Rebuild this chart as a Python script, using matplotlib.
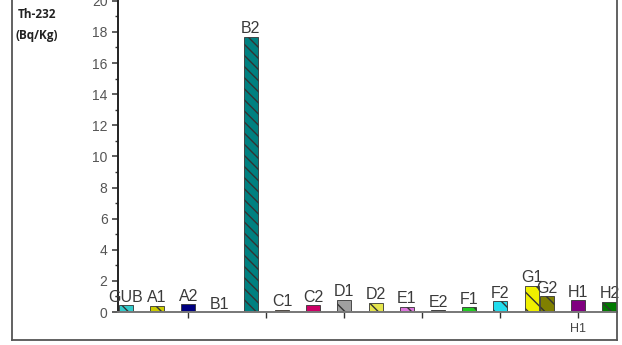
import matplotlib
matplotlib.use("Agg")
import matplotlib.pyplot as plt
from matplotlib.lines import Line2D
from matplotlib.ticker import MultipleLocator

# Th-232 activity per sample
samples = ["GUB", "A1", "A2", "B1", "B2", "C1", "C2", "D1", "D2",
           "E1", "E2", "F1", "F2", "G1", "G2", "H1", "H2"]
positions = [0, 1, 2, 3, 4, 5, 6, 7, 8, 9, 10, 11, 12, 13, 13.5, 14.5, 15.5]
th232 = [0.45, 0.4, 0.5, 0.0, 17.7, 0.15, 0.45, 0.8, 0.6,
         0.35, 0.1, 0.3, 0.7, 1.7, 1.0, 0.75, 0.65]
colors = ["#33CCCC", "#CCCC00", "#000080", "#FFFFFF", "#008080", "#CC8844",
          "#CC0066", "#A0A0A0", "#E6E64D", "#DD77DD", "#222222", "#22CC22",
          "#22DDEE", "#F0F000", "#808000", "#800080", "#007A00"]
hatches = ["\\\\", "\\\\", "", "", "\\\\\\", "", "", "\\", "\\",
           "\\\\", "", "\\\\", "\\\\", "\\\\", "\\\\", "", "\\\\"]
xtick_pos = [2, 4.5, 7, 9.5, 12, 14.5]
xtick_labels = ["", "", "", "", "", "H1"]

W, H = 622, 345
fig = plt.figure(figsize=(W / 100, H / 100), dpi=100)
plt.rcParams["font.family"] = ["Liberation Sans", "DejaVu Sans"]
plt.rcParams["hatch.linewidth"] = 1.0

ax_left, ax_right, ax_bottom = 118 / W, 617 / W, (H - 312) / H
ax = fig.add_axes([ax_left, ax_bottom, ax_right - ax_left, 1 - ax_bottom])

bars = ax.bar(positions, th232, width=0.45, color=colors,
              edgecolor="#333333", linewidth=0.6, zorder=2, clip_on=True)
for b, h in zip(bars, hatches):
    if h:
        b.set_hatch(h)

for x, v, name in zip(positions, th232, samples):
    ax.annotate(name, (x, v), xytext=(0, 0.3), textcoords="offset points",
                ha="center", va="bottom", fontsize=11.5, color="#3a3a3a",
                annotation_clip=False)

ax.set_xlim(-0.256, 15.74)
ax.set_ylim(0, 20.05)
ax.yaxis.set_major_locator(MultipleLocator(2))
ax.yaxis.set_minor_locator(MultipleLocator(1))
ax.set_xticks(xtick_pos)
ax.set_xticklabels(xtick_labels)

ax.spines["top"].set_visible(False)
ax.spines["right"].set_visible(False)
ax.spines["left"].set_color("#222222")
ax.spines["left"].set_linewidth(1.4)
ax.spines["bottom"].set_color("#777777")
ax.spines["bottom"].set_linewidth(1.4)

ax.tick_params(axis="y", which="major", length=4.5, width=1.1, color="#333333",
               labelsize=10, labelcolor="#555555", pad=3)
ax.tick_params(axis="y", which="minor", length=2.5, width=1.0, color="#333333")
ax.tick_params(axis="x", which="major", length=4, width=1.0, color="#333333",
               labelsize=9, labelcolor="#444444", pad=4)
ax.set_facecolor("none")

# outer frame around the plot
frame_kw = dict(color="#555555", linewidth=1.3, transform=fig.transFigure)
fig.add_artist(Line2D([12 / W, 12 / W], [1, (H - 340) / H], **frame_kw))
fig.add_artist(Line2D([12 / W, 617 / W], [(H - 340) / H, (H - 340) / H], **frame_kw))
fig.add_artist(Line2D([617 / W, 617 / W], [1, (H - 340) / H], **frame_kw))

label_kw = dict(ha="left", va="center", fontsize=8.5, fontweight="bold",
                color="#222222", family=["Open Sans", "DejaVu Sans"])
fig.text(18 / W, 1 - 14 / H, "Th-232", **label_kw)
fig.text(16 / W, 1 - 35 / H, "(Bq/Kg)", **label_kw)

fig.savefig("out.png", dpi=100)
